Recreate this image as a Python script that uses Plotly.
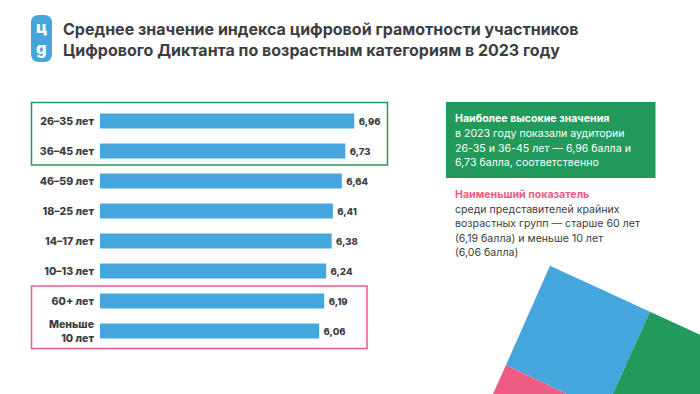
import plotly.graph_objects as go

W, H = 700, 394
FONT = "Inter"
DARK = "#3d3d3f"
BLUE = "#45a6dd"
GREEN = "#219a5b"
PINK = "#ee5c84"

categories = ["26–35 лет", "36–45 лет", "46–59 лет", "18–25 лет", "14–17 лет",
              "10–13 лет", "60+ лет", "Меньше<br>10 лет"]
values = [6.96, 6.73, 6.64, 6.41, 6.38, 6.24, 6.19, 6.06]

title_lines = ["Среднее значение индекса цифровой грамотности участников",
               "Цифрового Диктанта по возрастным категориям в 2023 году"]
green_note = ["<b>Наиболее высокие значения</b>",
              "в 2023 году показали аудитории",
              "26-35 и 36-45 лет — 6,96 балла и",
              "6,73 балла, соответственно"]
pink_note = ["<b>Наименьший показатель</b>",
             "среди представителей крайних",
             "возрастных групп — старше 60 лет",
             "(6,19 балла) и меньше 10 лет",
             "(6,06 балла)"]


def px(x):
    return x / W


def py(y):
    return 1 - y / H


def rect(x0, y0, x1, y1, **kw):
    return dict(type="rect", xref="paper", yref="paper", x0=px(x0), x1=px(x1),
                y0=py(y1), y1=py(y0), layer="below", **kw)


def poly(points, color):
    d = "M " + " L ".join(f"{px(x):.5f},{py(y):.5f}" for x, y in points) + " Z"
    return dict(type="path", xref="paper", yref="paper", path=d, fillcolor=color,
                line=dict(width=0), layer="below")


def pill(x0, y0, x1, y1, r, color):
    P = lambda x, y: f"{px(x):.5f},{py(y):.5f}"
    d = (f"M {P(x0 + r, y0)} L {P(x1 - r, y0)} Q {P(x1, y0)} {P(x1, y0 + r)} "
         f"L {P(x1, y1 - r)} Q {P(x1, y1)} {P(x1 - r, y1)} "
         f"L {P(x0 + r, y1)} Q {P(x0, y1)} {P(x0, y1 - r)} "
         f"L {P(x0, y0 + r)} Q {P(x0, y0)} {P(x0 + r, y0)} Z")
    return dict(type="path", xref="paper", yref="paper", path=d, fillcolor=color,
                line=dict(width=0), layer="below")


def label(x, y, text, size, color=DARK, **kw):
    return dict(xref="paper", yref="paper", x=px(x), y=py(y), text=text, showarrow=False,
                xanchor=kw.pop("xanchor", "left"), yanchor="middle",
                font=dict(family=FONT, size=size, color=color, **kw))


fig = go.Figure(go.Bar(
    x=values, y=categories, orientation="h",
    marker=dict(color=BLUE, line=dict(width=0)),
    texttemplate="\u2009%{x:.2f}", textposition="outside", cliponaxis=False,
    textfont=dict(family=FONT, size=9.5, color=DARK, weight=800),
))

shapes = [
    poly([(550, 265.7), (650, 311.7), (612.7, 394), (566.7, 394), (506, 365)], BLUE),
    poly([(506, 365), (566.7, 394), (493, 394)], PINK),
    poly([(650, 311.7), (700, 334.7), (700, 394), (612.7, 394)], GREEN),
    rect(31.5, 102.5, 387.5, 165, line=dict(color=GREEN, width=1.5)),
    rect(31.5, 286, 367, 348.5, line=dict(color=PINK, width=1.5)),
    rect(446, 102, 655.5, 178, fillcolor=GREEN, line=dict(width=0)),
    pill(31, 15, 52, 62, 8, BLUE),
]

ann = [label(61, 29, title_lines[0], 16, weight=700),
       label(61, 50, title_lines[1], 16, weight=700),
       label(41.5, 27, "ц", 16.5, "white", xanchor="center", weight=800),
       label(41.5, 48, "g", 16.5, "white", xanchor="center", weight=800)]
for i, t in enumerate(green_note):
    ann.append(label(453, 118.5 + i * 14.8, t, 10.6, "white"))
for i, t in enumerate(pink_note):
    ann.append(label(453, 194.5 + i * 14.6, t, 10.6, PINK if i == 0 else DARK))

fig.update_layout(
    width=W, height=H, autosize=False, showlegend=False, bargap=0.5,
    separators=", ", paper_bgcolor="white", plot_bgcolor="rgba(0,0,0,0)",
    margin=dict(l=0, r=0, t=0, b=0),
    shapes=shapes, annotations=ann,
    xaxis=dict(domain=[px(100), px(400)], range=[0.44, 0.44 + 300 / 39], visible=False),
    yaxis=dict(domain=[py(346), py(106)], autorange="reversed", showgrid=False,
               showline=False, zeroline=False, ticks="", ticklabelstandoff=5,
               tickfont=dict(family=FONT, size=10.6, color=DARK, weight=800)),
)
fig.write_html("out.html", config={"displayModeBar": False},
               post_script="document.body.style.margin='0';")
